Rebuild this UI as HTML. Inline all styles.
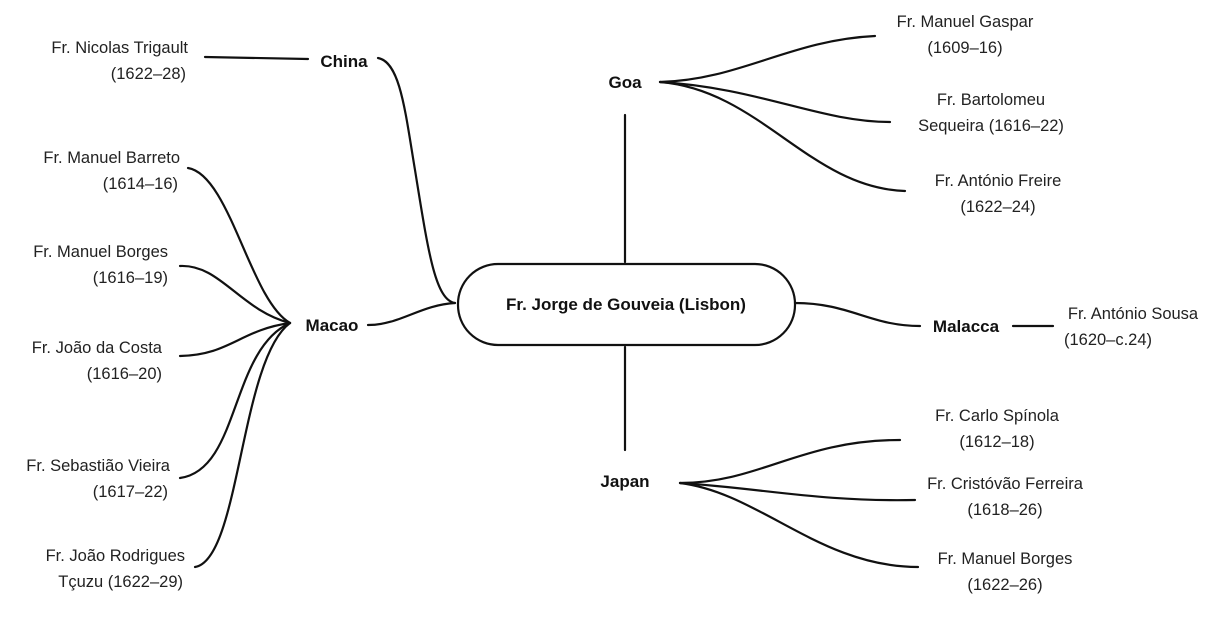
<!DOCTYPE html>
<html><head><meta charset="utf-8"><style>
html,body{margin:0;padding:0;background:#fff;}
body{width:1220px;height:629px;overflow:hidden;}
svg text{font-family:"Liberation Sans",sans-serif;font-size:16.5px;fill:#222;}
.b{font-weight:bold;font-size:17px;fill:#111;}
</style></head><body>
<svg width="1220" height="629" viewBox="0 0 1220 629" xmlns="http://www.w3.org/2000/svg">
<g fill="none" stroke="#111" stroke-width="2.2" stroke-linecap="round">
<rect x="458" y="264" width="337" height="81" rx="40" ry="40"/>
<line x1="625" y1="115" x2="625" y2="262"/>
<line x1="625" y1="347" x2="625" y2="450"/>
<path d="M205 57 L308 59"/>
<path d="M378 58 C 400 62 405 110 415 170 C 428 250 435 300 455 303"/>
<path d="M368 325 C 400 325 420 305 455 303"/>
<path d="M290 323 C 250 300 230 175 188 168"/>
<path d="M290 323 C 240 310 220 264 180 266"/>
<path d="M290 323 C 240 330 230 355 180 356"/>
<path d="M290 323 C 230 350 240 470 180 478"/>
<path d="M290 323 C 240 360 240 560 195 567"/>
<path d="M660 82 C 740 80 790 40 875 36"/>
<path d="M660 82 C 760 88 820 122 890 122"/>
<path d="M660 82 C 760 90 810 188 905 191"/>
<path d="M795 303 C 850 303 870 326 920 326"/>
<path d="M1013 326 L1053 326"/>
<path d="M680 483 C 760 483 800 440 900 440"/>
<path d="M680 483 C 760 488 820 502 915 500"/>
<path d="M680 483 C 760 493 820 567 918 567"/>
</g>
<text class="b" x="626" y="310" text-anchor="middle">Fr. Jorge de Gouveia (Lisbon)</text>
<text class="b" x="344" y="67" text-anchor="middle">China</text>
<text class="b" x="332" y="331" text-anchor="middle">Macao</text>
<text class="b" x="625" y="88" text-anchor="middle">Goa</text>
<text class="b" x="966" y="332" text-anchor="middle">Malacca</text>
<text class="b" x="625" y="487" text-anchor="middle">Japan</text>
<g text-anchor="end">
<text x="188" y="53">Fr. Nicolas Trigault</text><text x="186" y="79">(1622–28)</text>
<text x="180" y="163">Fr. Manuel Barreto</text><text x="178" y="189">(1614–16)</text>
<text x="168" y="257">Fr. Manuel Borges</text><text x="168" y="283">(1616–19)</text>
<text x="162" y="353">Fr. João da Costa</text><text x="162" y="379">(1616–20)</text>
<text x="170" y="471">Fr. Sebastião Vieira</text><text x="168" y="497">(1617–22)</text>
<text x="185" y="561">Fr. João Rodrigues</text><text x="183" y="587">Tçuzu (1622–29)</text>
</g>
<g text-anchor="middle">
<text x="965" y="27">Fr. Manuel Gaspar</text><text x="965" y="53">(1609–16)</text>
<text x="991" y="105">Fr. Bartolomeu</text><text x="991" y="131">Sequeira (1616–22)</text>
<text x="998" y="186">Fr. António Freire</text><text x="998" y="212">(1622–24)</text>
<text x="1133" y="319">Fr. António Sousa</text><text x="1108" y="345">(1620–c.24)</text>
<text x="997" y="421">Fr. Carlo Spínola</text><text x="997" y="447">(1612–18)</text>
<text x="1005" y="489">Fr. Cristóvão Ferreira</text><text x="1005" y="515">(1618–26)</text>
<text x="1005" y="564">Fr. Manuel Borges</text><text x="1005" y="590">(1622–26)</text>
</g>
</svg>
</body></html>
